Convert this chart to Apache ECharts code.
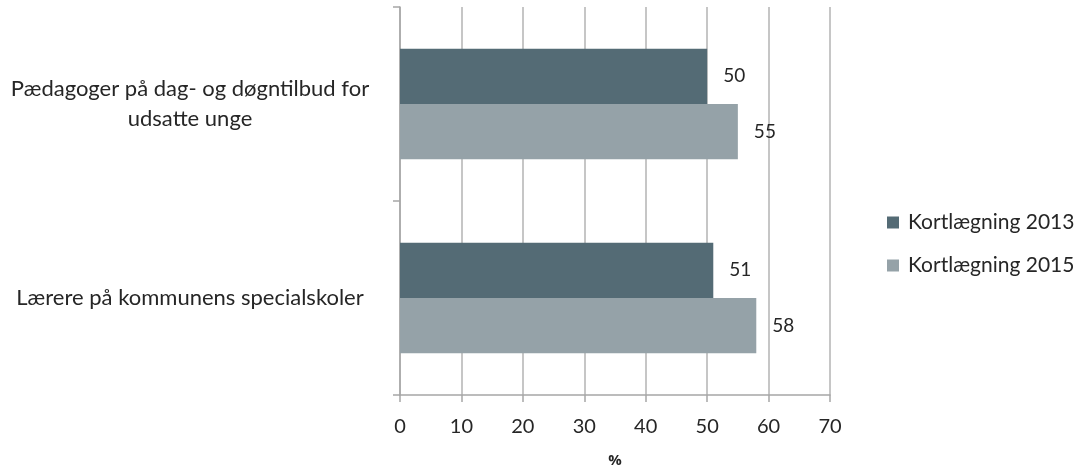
<!DOCTYPE html>
<html>
<head>
<meta charset="utf-8">
<script src="https://cdn.jsdelivr.net/npm/echarts@6/dist/echarts.min.js"></script>
<style>html,body{margin:0;padding:0;background:#fff;}#c{width:1081px;height:470px;}</style>
</head>
<body>
<div id="c"></div>
<script>
const categories = ['Pædagoger på dag- og døgntilbud for\nudsatte unge', 'Lærere på kommunens specialskoler'];
const seriesNames = ['Kortlægning 2013', 'Kortlægning 2015'];
const values2013 = [50, 51];
const values2015 = [55, 58];
const xTicks = [0, 10, 20, 30, 40, 50, 60, 70];

const FONT = 'Lato';
const chart = echarts.init(document.getElementById('c'), null, {renderer: 'canvas'});
const labelStyle = {show: true, position: 'right', distance: 16, color: '#262626', fontSize: 19, fontFamily: FONT};
chart.setOption({
  animation: false,
  textStyle: {fontFamily: FONT},
  grid: {left: 400, right: 251, top: 7, bottom: 75, containLabel: false, outerBoundsMode: 'none'},
  legend: {
    orient: 'vertical', left: 882, top: 207, itemWidth: 12, itemHeight: 12, itemGap: 22,
    icon: 'rect', textStyle: {fontSize: 21, color: '#262626', fontFamily: FONT, padding: [0, 0, 0, 4]},
    data: seriesNames
  },
  xAxis: {
    type: 'value', min: xTicks[0], max: xTicks[xTicks.length - 1], interval: 10,
    name: '%', nameLocation: 'middle', nameGap: 58,
    nameTextStyle: {fontWeight: 'bold', fontSize: 15, color: '#262626', fontFamily: 'Open Sans'},
    axisLine: {show: true, lineStyle: {color: '#a6a6a6', width: 1.5}},
    axisTick: {show: true, length: 7, lineStyle: {color: '#a6a6a6', width: 1.5}},
    axisLabel: {fontSize: 20, color: '#262626', margin: 22, fontFamily: FONT},
    splitLine: {show: true, lineStyle: {color: '#b3b3b3', width: 1.5}}
  },
  yAxis: {
    type: 'category', data: categories, inverse: true,
    axisLine: {show: true, lineStyle: {color: '#a6a6a6', width: 1.5}},
    axisTick: {show: true, length: 7, lineStyle: {color: '#a6a6a6', width: 1.5}},
    axisLabel: {fontSize: 22, color: '#262626', margin: 210, align: 'center', lineHeight: 30, fontFamily: FONT},
    splitLine: {show: false}
  },
  series: [
    {name: seriesNames[0], type: 'bar', data: values2013, barGap: '0%', barCategoryGap: '43%',
     itemStyle: {color: '#546b75'}, label: labelStyle},
    {name: seriesNames[1], type: 'bar', data: values2015, barGap: '0%', barCategoryGap: '43%',
     itemStyle: {color: '#95a2a8'}, label: labelStyle}
  ]
});
</script>
</body>
</html>
